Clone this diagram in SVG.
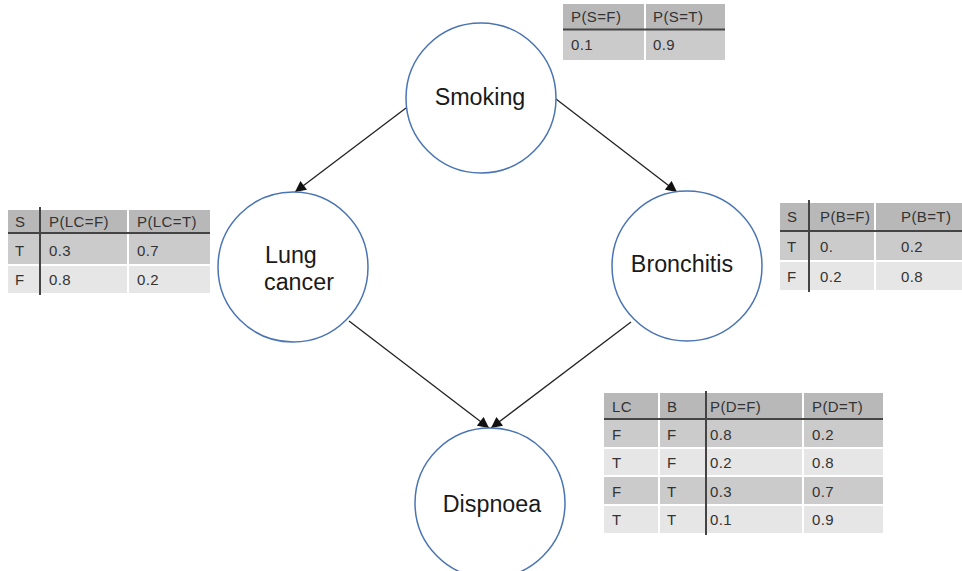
<svg xmlns="http://www.w3.org/2000/svg" width="962" height="571" viewBox="0 0 962 571">
<defs>
<marker id="arr" viewBox="0 0 10 10" refX="10" refY="5" markerWidth="12" markerHeight="11" markerUnits="userSpaceOnUse" orient="auto">
<path d="M0,0 L10,5 L0,10 z" fill="#111"/>
</marker>
<style>
.node{fill:#fff;stroke:#4a74b4;stroke-width:1.5}
.lbl{font-family:"Liberation Sans",Arial,sans-serif;font-size:23.3px;fill:#1a1a1a;text-anchor:middle}
.edge{stroke:#222;stroke-width:1.3;fill:none;marker-end:url(#arr)}
.h{fill:#b8b8b8}
.r1{fill:#cbcbcb}
.r2{fill:#e6e6e6}
.sep{stroke:#fff;stroke-width:2}
.rule{stroke:#444;stroke-width:2}
.t{font-family:"Liberation Sans",Arial,sans-serif;font-size:15px;letter-spacing:0.4px;fill:#333}
</style>
</defs>
<rect width="962" height="571" fill="#fff"/>

<g id="connectors">
<line class="edge" x1="406" y1="108" x2="295" y2="192"/>
<line class="edge" x1="556" y1="99" x2="677" y2="192"/>
<line class="edge" x1="349" y1="321" x2="489" y2="428"/>
<line class="edge" x1="631" y1="322" x2="491" y2="428"/>
</g>

<g id="smoking">
<circle class="node" cx="481" cy="98" r="75"/>
<text class="lbl" x="480" y="105">Smoking</text>
</g>
<g id="lung-cancer">
<circle class="node" cx="293" cy="267" r="75"/>
<text class="lbl" x="265" y="263" style="text-anchor:start">Lung</text>
<text class="lbl" x="264" y="290" style="text-anchor:start">cancer</text>
</g>
<g id="bronchitis">
<circle class="node" cx="687" cy="266" r="75"/>
<text class="lbl" x="682" y="272">Bronchitis</text>
</g>
<g id="dispnoea">
<circle class="node" cx="490" cy="503" r="75"/>
<text class="lbl" x="492" y="512">Dispnoea</text>
</g>

<!-- P(S) -->
<g id="table-s">
<rect class="h" x="563" y="4" width="162" height="26"/>
<rect class="r1" x="563" y="30" width="162" height="30"/>
<line class="sep" x1="645" y1="4" x2="645" y2="60"/>
<line class="rule" x1="563" y1="29.5" x2="725" y2="29.5"/>
<text class="t" x="571" y="22">P(S=F)</text>
<text class="t" x="653" y="22">P(S=T)</text>
<text class="t" x="571" y="50">0.1</text>
<text class="t" x="653" y="50">0.9</text>
</g>

<!-- P(LC|S) -->
<g id="table-lc">
<rect class="h" x="8" y="210" width="202" height="24"/>
<rect class="r1" x="8" y="234" width="202" height="31"/>
<rect class="r2" x="8" y="265" width="202" height="28"/>
<line class="sep" x1="8" y1="265" x2="210" y2="265"/>
<line class="sep" x1="128" y1="210" x2="128" y2="293"/>
<line class="rule" x1="8" y1="233" x2="210" y2="233"/>
<line class="rule" x1="40" y1="207" x2="40" y2="295"/>
<text class="t" x="15" y="227">S</text>
<text class="t" x="49" y="227">P(LC=F)</text>
<text class="t" x="137" y="227">P(LC=T)</text>
<text class="t" x="15" y="256">T</text>
<text class="t" x="49" y="256">0.3</text>
<text class="t" x="137" y="256">0.7</text>
<text class="t" x="15" y="285">F</text>
<text class="t" x="49" y="285">0.8</text>
<text class="t" x="137" y="285">0.2</text>
</g>

<!-- P(B|S) -->
<g id="table-b">
<rect class="h" x="780" y="203" width="182" height="28"/>
<rect class="r1" x="780" y="231" width="182" height="30"/>
<rect class="r2" x="780" y="261" width="182" height="29"/>
<line class="sep" x1="780" y1="261" x2="962" y2="261"/>
<line class="sep" x1="875" y1="203" x2="875" y2="290"/>
<line class="rule" x1="780" y1="231" x2="962" y2="231"/>
<line class="rule" x1="809" y1="200" x2="809" y2="292"/>
<text class="t" x="787" y="222">S</text>
<text class="t" x="820" y="222">P(B=F)</text>
<text class="t" x="901" y="222">P(B=T)</text>
<text class="t" x="787" y="252">T</text>
<text class="t" x="820" y="252">0.</text>
<text class="t" x="901" y="252">0.2</text>
<text class="t" x="787" y="282">F</text>
<text class="t" x="820" y="282">0.2</text>
<text class="t" x="901" y="282">0.8</text>
</g>

<!-- P(D|LC,B) -->
<g id="table-d">
<rect class="h" x="604" y="393" width="279" height="26"/>
<rect class="r1" x="604" y="419" width="279" height="29"/>
<rect class="r2" x="604" y="448" width="279" height="28"/>
<rect class="r1" x="604" y="476" width="279" height="29"/>
<rect class="r2" x="604" y="505" width="279" height="28"/>
<line class="sep" x1="604" y1="448" x2="883" y2="448"/>
<line class="sep" x1="604" y1="476" x2="883" y2="476"/>
<line class="sep" x1="604" y1="505" x2="883" y2="505"/>
<line class="sep" x1="659" y1="393" x2="659" y2="533"/>
<line class="sep" x1="803" y1="393" x2="803" y2="533"/>
<line class="rule" x1="604" y1="419" x2="883" y2="419"/>
<line class="rule" x1="706" y1="391" x2="706" y2="535"/>
<text class="t" x="612" y="412">LC</text>
<text class="t" x="667" y="412">B</text>
<text class="t" x="710" y="412">P(D=F)</text>
<text class="t" x="812" y="412">P(D=T)</text>
<text class="t" x="612" y="440">F</text>
<text class="t" x="667" y="440">F</text>
<text class="t" x="710" y="440">0.8</text>
<text class="t" x="812" y="440">0.2</text>
<text class="t" x="612" y="468">T</text>
<text class="t" x="667" y="468">F</text>
<text class="t" x="710" y="468">0.2</text>
<text class="t" x="812" y="468">0.8</text>
<text class="t" x="612" y="497">F</text>
<text class="t" x="667" y="497">T</text>
<text class="t" x="710" y="497">0.3</text>
<text class="t" x="812" y="497">0.7</text>
<text class="t" x="612" y="525">T</text>
<text class="t" x="667" y="525">T</text>
<text class="t" x="710" y="525">0.1</text>
<text class="t" x="812" y="525">0.9</text>
</g>
</svg>
